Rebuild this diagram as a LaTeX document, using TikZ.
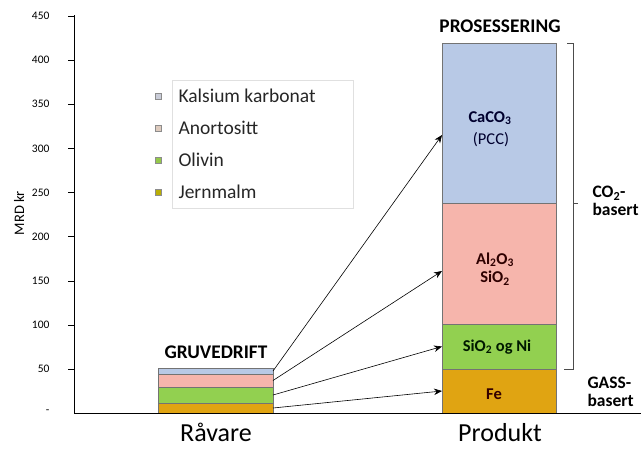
\documentclass[tikz,border=0pt]{standalone}
\usepackage{fontspec}
\setmainfont{Carlito}
\usetikzlibrary{arrows.meta}
\definecolor{cablue}{HTML}{B8C9E6}
\definecolor{alpink}{HTML}{F6B5AC}
\definecolor{sigreen}{HTML}{92D050}
\definecolor{feorange}{HTML}{E0A412}
\definecolor{legblue}{HTML}{C9CCD8}
\definecolor{legpink}{HTML}{DECBBE}
\definecolor{leggreen}{HTML}{94C84A}
\definecolor{legolive}{HTML}{B9AE06}
\begin{document}
\begin{tikzpicture}[x=1pt,y=-1pt,
  seg/.style={draw=black!55,line width=0.5pt,inner sep=0pt,outer sep=0pt},
  rseg/.style={seg,minimum width=114pt},
  lseg/.style={seg,minimum width=115pt},
  legbox/.style={draw=black!45,line width=0.3pt,minimum size=6pt,inner sep=0pt},
  legtext/.style={anchor=west,font=\fontsize{19.5}{21}\selectfont,text=black!85},
  head/.style={font=\fontsize{19.3}{21}\selectfont\bfseries},
  barlbl/.style={font=\fontsize{16.5}{18.5}\selectfont\bfseries,align=center},
  side/.style={font=\fontsize{17.5}{18}\selectfont\bfseries,anchor=west,align=left},
  cat/.style={font=\fontsize{26}{28}\selectfont,anchor=base,inner sep=0pt},
  tick/.style={font=\fontsize{11.5}{13}\selectfont,anchor=east},
  arr/.style={-{Stealth[length=8pt,width=6.5pt]},line width=0.6pt}]
\useasboundingbox (0,0) rectangle (641,448);

\node[rseg,fill=cablue,minimum height=160pt] (ca) at (499,123) {};
\node[rseg,fill=alpink,minimum height=121pt] (al) at (499,263.5) {};
\node[rseg,fill=sigreen,minimum height=45pt] (si) at (499,346.5) {};
\node[rseg,fill=feorange,minimum height=44pt] (fe) at (499,391) {};

\node[lseg,fill=cablue,minimum height=6pt] (kb) at (215.5,371) {};
\node[lseg,fill=alpink,minimum height=13pt] (ao) at (215.5,380.5) {};
\node[lseg,fill=sigreen,minimum height=16pt] (ol) at (215.5,395) {};
\node[lseg,fill=feorange,minimum height=10pt] (jm) at (215.5,408) {};

\draw (74,15) -- (74,413);
\draw (74,413) -- (641,413);
\foreach \v in {50,100,...,450} {
  \draw (68,{413-0.882*\v}) -- (74,{413-0.882*\v});
  \node[tick] (y\v) at (53,{413-0.882*\v}) {\v};
}
\node[tick] (y0) at (53,412) {-};
\node[rotate=90,font=\fontsize{14.5}{16}\selectfont] (ylab) at (19,213) {MRD kr};

\node[draw=black!12,line width=0.4pt,minimum width=181pt,minimum height=128pt] (leg) at (262.5,144) {};
\node[legbox,fill=legblue] (k1) at (158,96) {};
\node[legbox,fill=legpink] (k2) at (158,128) {};
\node[legbox,fill=leggreen] (k3) at (158,160) {};
\node[legbox,fill=legolive] (k4) at (158,192) {};
\node[legtext] (t1) at (175,96) {Kalsium karbonat};
\node[legtext] (t2) at (175,128) {Anortositt};
\node[legtext] (t3) at (175,160) {Olivin};
\node[legtext] (t4) at (175,192) {Jernmalm};

\node[head] (gruve) at (216,352) {GRUVEDRIFT};
\node[head] (pros) at (500,26) {PROSESSERING};
\node[cat] (raa) at (216,441) {Råvare};
\node[cat] (prod) at (500,441) {Produkt};

\node[barlbl,text=black!80!blue!90!black] (caco) at (490,118) {CaCO\textsubscript{3}};
\node[font=\fontsize{16.5}{18}\selectfont,text=black!80!blue!90!black] (pcc) at (491,140) {(PCC)};
\node[barlbl,text=black!70!red!60!black] (alsi) at (495,269) {Al\textsubscript{2}O\textsubscript{3}\\SiO\textsubscript{2}};
\node[barlbl,text=black!75!green!40!black] (sini) at (497,347) {SiO\textsubscript{2} og Ni};
\node[barlbl,text=black!60!red!50!black] (fetxt) at (494,394) {Fe};

\node[side] (co2) at (589,201) {CO\textsubscript{2}-\\basert};
\node[side] (gass) at (584,392) {GASS-\\basert};

\draw[black!70,line width=0.6pt] (567,43) -- (573,43) -- (573,369) -- (564,369);
\draw[black!70,line width=0.6pt] (573,203) -- (578,203);

\coordinate (ca1) at (442,135);
\coordinate (al1) at (442,271);
\draw[arr] (kb.east) -- (ca1);
\draw[arr] (ao.east) -- (al1);
\draw[arr] (ol.east) -- (si.west);
\draw[arr] (jm.east) -- (fe.west);
\end{tikzpicture}
\end{document}
